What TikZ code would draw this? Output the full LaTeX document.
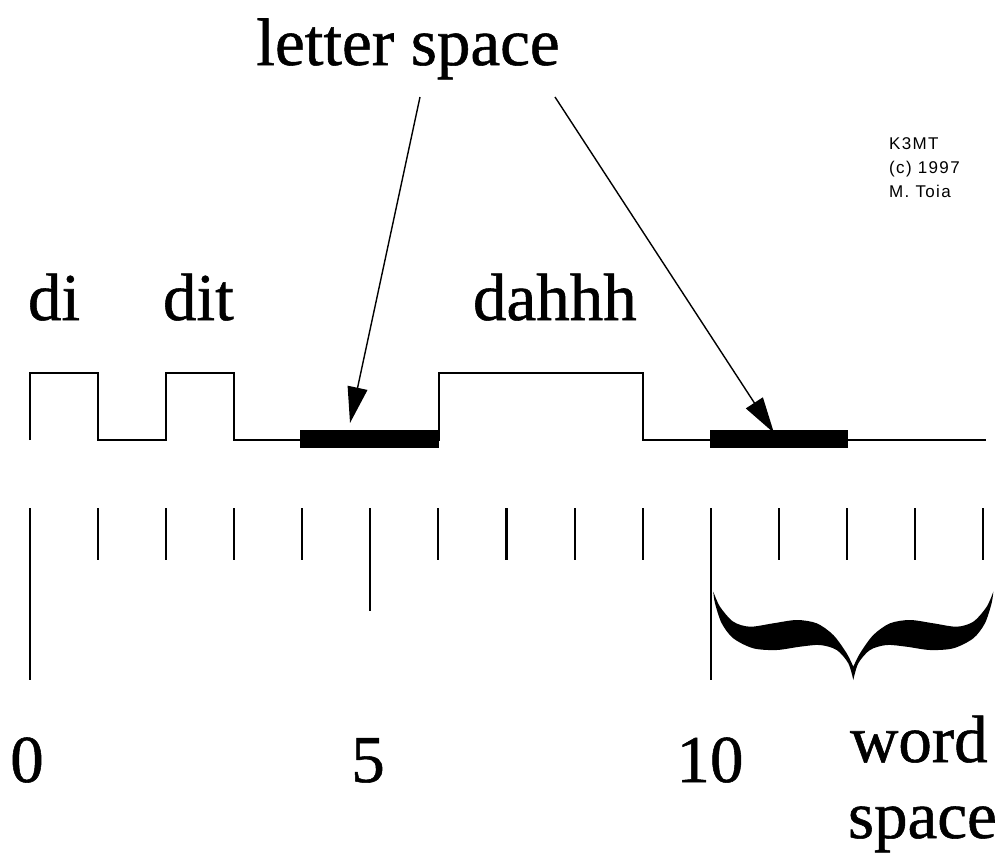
\documentclass[tikz,border=0pt]{standalone}
\usepackage{fontspec}
\setmainfont{Liberation Serif}
\newfontfamily\heavyserif[FakeBold=0.8]{Liberation Serif}
\newfontfamily\smallsans[LetterSpace=8]{Liberation Sans}
\usetikzlibrary{arrows.meta}
\begin{document}
\begin{tikzpicture}[x=1pt,y=-1pt,
  big/.style={font=\heavyserif\fontsize{67}{67}\selectfont, inner sep=0pt, outer sep=0pt},
  wave/.style={line width=1.8pt, line join=miter},
  tickmark/.style={line width=2.1pt},
  spacebar/.style={fill=black},
  pointer/.style={line width=1.4pt, -{Triangle[length=36pt,width=20pt]}},
  credit/.style={font=\smallsans\fontsize{17}{17}\selectfont, inner sep=0pt, anchor=base west}]
\useasboundingbox (0,0) rectangle (999,857);
\fill[white] (0,0) rectangle (999,857);

% title
\node[big, anchor=base] (ls) at (408,65) {letter space};

% credit
\node[credit] (c1) at (889,149) {K3MT};
\node[credit] (c2) at (889,173) {(c) 1997};
\node[credit] (c3) at (889,197) {M. Toia};

% element labels
\node[big, anchor=base west] (di) at (28,320) {di};
\node[big, anchor=base west] (dit) at (163,320) {dit};
\node[big, anchor=base west] (dah) at (473,320) {dahhh};

% waveform
\draw[wave] (30,440) -- (30,373) -- (98,373) -- (98,440) -- (166,440) -- (166,373)
  -- (234,373) -- (234,440) -- (439,440) -- (439,373) -- (643,373) -- (643,440) -- (986,440);

% thick space bars
\fill[spacebar] (300,430) rectangle (439,448);
\fill[spacebar] (710,430) rectangle (848,448);

% arrows
\coordinate (s1) at (420,97);
\coordinate (t1) at (350,423);
\coordinate (s2) at (555,97);
\coordinate (t2) at (774,433);
\draw[pointer] (s1) -- (t1);
\draw[pointer] (s2) -- (t2);

% ticks
\foreach \i in {1,2,3,4,6,7,8,9,11,12,13,14}{
  \draw[tickmark] ({30+68.07*\i},508) -- ({30+68.07*\i},560);
}
\draw[tickmark] (30,508) -- (30,680);
\draw[tickmark] (370.35,508) -- (370.35,611);
\draw[tickmark] (710.7,508) -- (710.7,680);

% brace
\fill[black]
  plot[smooth] coordinates {(713.3,591.7) (720,606.7) (733.3,621.7) (750,626.7) (773.3,623.3) (796.7,620) (816.7,623.3) (833.3,635) (846.7,653.3) (853.3,666.7)}
  -- plot[smooth] coordinates {(853.3,666.7) (860,653.3) (873.3,635) (890,623.3) (910,620) (933.3,623.3) (956.7,626.7) (973.3,621.7) (986.7,606.7) (993.3,591.7)}
  -- plot[smooth] coordinates {(993.3,591.7) (991.6,603.3) (984.9,623.3) (973.3,638.3) (953.3,648.3) (930,650) (906.6,646.7) (886.6,645) (870,650) (858.3,663.3) (853.3,680)}
  -- plot[smooth] coordinates {(853.3,680) (848.3,663.3) (836.7,650) (820,645) (800,646.7) (776.7,650) (753.3,648.3) (733.3,638.3) (721.7,623.3) (715,603.3) (713.3,591.7)}
  -- cycle;

% numbers
\node[big, anchor=base] (n0) at (27,782) {0};
\node[big, anchor=base] (n5) at (368,782) {5};
\node[big, anchor=base] (n10) at (710,782) {10};
\node[big, anchor=base west] (word) at (850,762) {word};
\node[big, anchor=base west] (wsp) at (848,838) {space};
\end{tikzpicture}
\end{document}
